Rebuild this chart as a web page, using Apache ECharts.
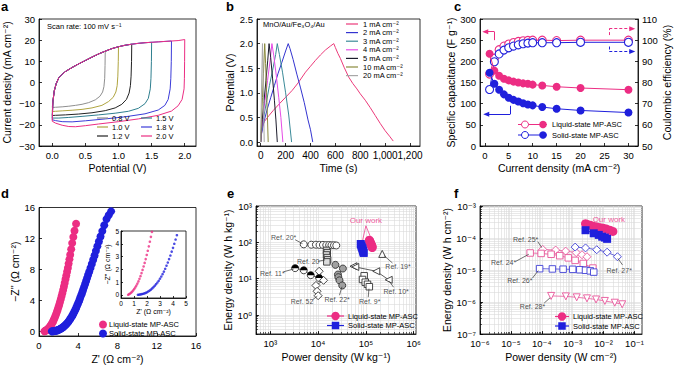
<!DOCTYPE html>
<html><head><meta charset="utf-8">
<script src="https://cdn.jsdelivr.net/npm/echarts@6/dist/echarts.min.js"></script>
<style>html,body{margin:0;padding:0;background:#fff}#c{width:676px;height:365px}</style>
</head><body><div id="c"></div>
<script>
// ---------------- DATA ----------------
// a: CV curves
const cvLabels = ['0.8 V', '1.0 V', '1.2 V', '1.5 V', '1.8 V', '2.0 V'];
const cvVmax = [0.8, 1.0, 1.2, 1.5, 1.8, 2.0];
const cvUpper = [[0.01,-9],[0.03,-4],[0.06,-0.5],[0.1,2.3],[0.15,3.9],[0.2,5.2],[0.3,7.1],[0.4,8.8],[0.5,10.4],[0.6,12],[0.7,13.5],[0.8,14.8],[0.9,16],[1.0,16.9],[1.1,17.6],[1.2,18.1],[1.3,18.5],[1.4,18.8],[1.5,19.0],[1.6,19.2],[1.7,19.4],[1.8,19.6],[1.9,19.8],[2.0,20.3]];
const cvRet08 = [[0.797,8],[0.792,2],[0.78,-2],[0.76,-4.5],[0.72,-6.5],[0.65,-8.2],[0.55,-9.5],[0.45,-10.3],[0.35,-10.8],[0.25,-11.2],[0.15,-11.5],[0.05,-11.7],[0,-11.8]];
const cvRet10 = [[0.997,10],[0.99,3],[0.98,-1.5],[0.96,-4.5],[0.92,-7],[0.85,-9],[0.75,-10.8],[0.6,-12],[0.45,-12.7],[0.3,-13.1],[0.15,-13.4],[0.05,-13.6],[0,-13.7]];
const cvRet12 = [[1.197,10],[1.19,3],[1.18,-1.5],[1.16,-5],[1.12,-8],[1.05,-10.3],[0.95,-12],[0.8,-13.3],[0.6,-14.3],[0.4,-14.9],[0.2,-15.3],[0.05,-15.5],[0,-15.6]];
const cvRet15 = [[1.497,10],[1.49,2],[1.48,-3],[1.45,-7.5],[1.4,-10],[1.3,-12.2],[1.15,-13.6],[0.95,-14.5],[0.7,-15.3],[0.45,-16],[0.25,-16.5],[0.1,-16.8],[0,-16.8]];
const cvRet18 = [[1.797,10],[1.79,2],[1.78,-3],[1.75,-8],[1.7,-10.8],[1.6,-13],[1.4,-14.8],[1.1,-16.2],[0.8,-17.2],[0.5,-18.1],[0.3,-18.6],[0.15,-18.5],[0.05,-18],[0,-17.6]];
const cvRet20 = [[1.998,10],[1.995,2],[1.99,-3],[1.96,-8],[1.9,-11],[1.8,-13.5],[1.6,-15.5],[1.3,-17.2],[1.0,-18.5],[0.7,-19.6],[0.5,-20.4],[0.35,-20.9],[0.25,-20.8],[0.15,-20.2],[0.05,-19.2],[0,-18.3]];
const aTicksX = [0, 0.5, 1, 1.5, 2];
const aTicksY = [-30, -20, -10, 0, 10, 20, 30];

// b: GCD curves
const gcdLabels = ['1 mA cm⁻²','2 mA cm⁻²','3 mA cm⁻²','4 mA cm⁻²','5 mA cm⁻²','10 mA cm⁻²','20 mA cm⁻²'];
const gcd1 = [[0,0],[5,0.15],[13,0.31],[30,0.42],[67,0.54],[100,0.64],[147,0.77],[200,0.91],[253,1.05],[300,1.2],[360,1.42],[400,1.54],[440,1.66],[480,1.77],[520,1.87],[560,1.95],[587,2.0],[600,1.92],[620,1.8],[640,1.7],[670,1.52],[707,1.32],[740,1.19],[773,1.08],[800,0.98],[840,0.85],[880,0.7],[920,0.54],[960,0.38],[1000,0.23],[1035,0.12],[1065,0.02]];
const gcd2 = [[0,0],[3,0.12],[20,0.35],[50,0.65],[80,0.9],[110,1.15],[140,1.4],[170,1.62],[200,1.85],[221,2.0],[235,1.9],[260,1.68],[290,1.38],[320,1.1],[350,0.8],[380,0.45],[400,0.25],[418,0.0]];
const gcd3 = [[0,0],[3,0.15],[20,0.45],[45,0.8],[70,1.15],[95,1.45],[120,1.78],[133,2.0],[150,1.78],[175,1.42],[200,1.0],[225,0.55],[248,0.0]];
const gcd4 = [[0,0],[3,0.15],[15,0.45],[35,0.85],[55,1.25],[75,1.65],[90,2.0],[105,1.75],[125,1.35],[145,0.9],[162,0.5],[178,0.0]];
const gcd5 = [[0,0],[2,0.15],[12,0.45],[27,0.85],[42,1.25],[56,1.65],[67,2.0],[80,1.72],[95,1.3],[110,0.85],[122,0.45],[133,0.0]];
const gcd10 = [[0,0],[1,0.15],[6,0.45],[14,0.9],[22,1.4],[32,2.0],[39,1.6],[47,1.0],[54,0.5],[60,0.0]];
const gcd20 = [[0,0],[1,0.2],[4,0.7],[8,1.3],[14,2.0],[18,1.5],[23,0.8],[28,0.0]];
const bTicksX = [0, 200, 400, 600, 800, 1000, 1200];
const bTicksY = [0, 0.5, 1, 1.5, 2, 2.5];

// c: capacitance & coulombic efficiency
const currentDensity = [1,2,3,4,5,6,7,8,9,10,12,15,20,30];
const capLiquid = [218,178,166,159,155,152,150,148,147,145,143,140,137,133];
const capSolid = [173,147,133,122,114,109,105,101,98,96,92,88,84,79];
const ceLiquid = [84,91.5,95.5,97.2,98.2,98.9,99.4,99.7,99.9,100,100,99.8,100,100];
const ceSolid = [76.7,89.8,93.5,95.3,96.4,97.2,97.8,98.3,98.6,98.8,98.8,98.8,99,99];
const cTicksX = [0,5,10,15,20,25,30];
const cTicksL = [0,50,100,150,200,250,300];
const cTicksR = [50,60,70,80,90,100,110];

// d: Nyquist
const eisLiquid = [[0.55,0],[0.62,0.05],[0.7,0.1],[0.78,0.17],[0.86,0.25],[0.94,0.35],[1.02,0.46],[1.1,0.58],[1.18,0.72],[1.26,0.88],[1.34,1.05],[1.42,1.25],[1.5,1.46],[1.58,1.7],[1.66,1.95],[1.74,2.22],[1.82,2.5],[1.9,2.8],[1.98,3.12],[2.06,3.45],[2.14,3.8],[2.22,4.16],[2.3,4.54],[2.38,4.93],[2.46,5.35],[2.54,5.8],[2.62,6.25],[2.7,6.72],[2.78,7.2],[2.86,7.7],[2.94,8.2],[3.02,8.75],[3.1,9.3],[3.18,9.9],[3.28,10.6],[3.38,11.4],[3.5,12.2],[3.62,13.0],[3.78,13.9]];
const eisSolid = [[1.3,0],[1.4,0.01],[1.5,0.03],[1.6,0.05],[1.7,0.08],[1.8,0.11],[1.9,0.15],[2.0,0.2],[2.1,0.26],[2.2,0.33],[2.3,0.41],[2.4,0.5],[2.5,0.6],[2.6,0.71],[2.7,0.83],[2.8,0.96],[2.9,1.1],[3.0,1.26],[3.1,1.43],[3.2,1.62],[3.3,1.82],[3.4,2.04],[3.5,2.28],[3.6,2.53],[3.7,2.8],[3.8,3.08],[3.9,3.38],[4.0,3.68],[4.1,4.0],[4.2,4.33],[4.3,4.67],[4.4,5.02],[4.5,5.38],[4.6,5.75],[4.7,6.12],[4.8,6.5],[4.9,6.88],[5.0,7.27],[5.12,7.72],[5.25,8.2],[5.38,8.7],[5.52,9.25],[5.66,9.8],[5.8,10.4],[5.95,11.0],[6.1,11.6],[6.27,12.25],[6.45,12.95],[6.65,13.7],[6.88,14.5],[7.1,15.0],[7.35,15.5]];
const dTicks = [0, 4, 8, 12, 16];
const insetTicks = [0, 1, 2, 3, 4, 5];

// e: Ragone (gravimetric)
const eLiquid = [[118000,115],[120000,108],[122000,102],[124000,97],[126000,92],[128000,88],[130000,84],[132000,80],[134000,76],[136000,72]];
const eSolid = [[78000,90],[80000,82],[82000,75],[84000,69],[85500,64],[87000,59],[88500,55],[90000,51]];
const eRef20s = [[5000,88],[7200,86],[9000,86],[10700,85],[12600,85],[14800,84],[17000,84],[19000,83],[21500,83],[24000,82]];
const eRef20 = [[15000,60],[15500,52],[15000,45],[15500,38],[15800,33],[15200,29]];
const eRef11s = [[3300,19.5],[5000,17],[7000,12.5],[10500,10.5]];
const eRef52 = [[10500,16],[13000,9],[9000,6.5],[9500,4.5],[10000,3.4]];
const eRef22s = [[23000,24],[33000,19],[26000,13],[26500,11],[28000,9],[32000,6.5]];
const eRef9s = [[92000,12],[85000,9.5],[97000,8],[108000,7],[118000,6]];
const eRef10s = [[55000,22],[60000,21],[165000,16],[300000,9.3]];
const eRef19s = [[220000,48]];
const eTicksX = [1e3, 1e4, 1e5, 1e6];
const eTicksY = [1, 10, 100, 1000];

// f: Ragone (areal)
const fLiquid = [[2.6e-3,2.8e-4],[3.2e-3,2.6e-4],[4e-3,2.45e-4],[5e-3,2.3e-4],[6.3e-3,2.2e-4],[8e-3,2.1e-4],[1e-2,2e-4],[1.25e-2,1.9e-4],[1.6e-2,1.75e-4],[2e-2,1.6e-4]];
const fSolid = [[2.6e-3,1.75e-4],[4.8e-3,1.4e-4],[7e-3,1.25e-4],[9e-3,1.1e-4],[1.1e-2,1.03e-4],[1.3e-2,9.4e-5]];
const fRef25s = [[1.07e-4,4.4e-5],[2.8e-4,4.2e-5],[5.9e-4,3.9e-5],[1.3e-3,3.5e-5],[2e-3,3e-5],[2.9e-3,2.6e-5]];
const fRef24s = [[4.2e-5,3.4e-5],[9.5e-5,3.3e-5],[2e-4,3.1e-5],[3.8e-4,2.8e-5],[7.2e-4,2.4e-5],[1.2e-3,2e-5],[2.2e-3,1.6e-5],[4.5e-3,1.15e-5]];
const fRef27s = [[1.2e-3,5.2e-5],[2.6e-3,4.9e-5],[6e-3,4.3e-5],[1.3e-2,3.6e-5],[2.8e-2,2.6e-5]];
const fRef26s = [[8.5e-5,1.1e-5],[2.2e-4,1.08e-5],[4.9e-4,1.06e-5],[1e-3,1.05e-5],[1.7e-3,1.02e-5],[2.6e-3,9.8e-6],[3.7e-3,9.4e-6],[4.8e-3,8.6e-6]];
const fRef28s = [[2e-4,1.55e-6],[6e-4,1.5e-6],[1.35e-3,1.4e-6],[2.9e-3,1.3e-6],[5.7e-3,1.2e-6],[1.1e-2,1.08e-6],[2.3e-2,9.5e-7],[4e-2,8.5e-7]];
const fTicksX = [1e-6, 1e-5, 1e-4, 1e-3, 1e-2, 1e-1];
const fTicksY = [1e-7, 1e-6, 1e-5, 1e-4, 1e-3];

// ---------------- STYLE / LAYOUT ----------------
const FONT = 'Liberation Sans, Arial, DejaVu Sans, sans-serif';
const PINK = '#ec2d83', BLUE = '#1f1fdc';
const cvColors = ['#8f8f8f', '#b0a540', '#222222', '#2f7f8f', '#3b3bd9', '#ec2d83'];
const gcdColors = ['#ec3a7a', '#3434d0', '#3a8a98', '#e64ce6', '#1c1c2c', '#8a8a3c', '#a8a8a8'];
const REFPINK = '#e8559a', REFBLUE = '#4040d6', REFGREY = '#333333';
const TICKFONT = 9.5;

const SUP = {'-':'⁻','0':'⁰','1':'¹','2':'²','3':'³','4':'⁴','5':'⁵','6':'⁶','7':'⁷','8':'⁸','9':'⁹'};
const sup = s => String(s).replace(/[-0-9]/g, c => SUP[c]);
const logFmt = v => '10' + sup(Math.round(Math.log10(v)));
const minusFmt = v => String(v).replace('-', '−');
const fix1 = v => Number(v).toFixed(1);
const commaFmt = v => Number(v).toLocaleString('en-US');

function minorVals(lo, hi) {
  const out = [];
  for (let e = Math.floor(Math.log10(lo)); e <= Math.ceil(Math.log10(hi)); e++)
    for (let m = 1; m < 10; m++) { const v = m * Math.pow(10, e); if (v >= lo * 0.999 && v <= hi * 1.001) out.push(v); }
  return out;
}

function axis(kind, grid, min, max, ticks, fmt, name, gap, extra) {
  const a = {
    type: kind, gridIndex: grid, min: min, max: max,
    axisLine: {show: true, onZero: false, lineStyle: {color: '#000', width: 0.8}},
    axisTick: {show: true, inside: true, length: 3, customValues: ticks, lineStyle: {color: '#000', width: 0.8}},
    axisLabel: {show: true, customValues: ticks, formatter: fmt, fontSize: TICKFONT, color: '#000', fontFamily: FONT, margin: 4},
    splitLine: {show: false},
    name: name, nameLocation: 'middle', nameGap: gap,
    nameTextStyle: {fontSize: 10.5, color: '#000', fontFamily: FONT}
  };
  if (kind === 'log') a.logBase = 10;
  return Object.assign(a, extra || {});
}
function gridAxis(grid, min, max, pos) {
  return {type: 'log', logBase: 10, gridIndex: grid, min: min, max: max, position: pos,
    axisLine: {show: false}, axisLabel: {show: false},
    axisTick: {show: true, inside: true, length: 2, customValues: minorVals(min, max), lineStyle: {color: '#000', width: 0.6}},
    splitLine: {show: true, lineStyle: {color: '#dadada', width: 0.6}}};
}

const grids = [
  {left: 39, top: 19, width: 157, height: 127},   // a
  {left: 257, top: 19, width: 163, height: 127},  // b
  {left: 480, top: 19, width: 158, height: 127},  // c
  {left: 39, top: 207.5, width: 157, height: 128.5}, // d
  {left: 256, top: 206, width: 160, height: 128}, // e
  {left: 480, top: 206, width: 162, height: 128}, // f
  {left: 121, top: 231, width: 65, height: 67}    // inset
].map(g => Object.assign({show: true, borderColor: '#000', borderWidth: 0.8, backgroundColor: 'transparent', containLabel: false}, g));
grids[6].backgroundColor = '#fff';

const xAxes = [
  axis('value', 0, -0.2, 2.17, aTicksX, fix1, 'Potential (V)', 16),
  axis('value', 1, -30, 1280, bTicksX, commaFmt, 'Time (s)', 16),
  axis('value', 2, -1, 32, cTicksX, null, 'Current density (mA cm⁻²)', 16),
  axis('value', 3, 0, 16, dTicks, null, "Z' (Ω cm⁻²)", 17),
  axis('log', 4, 500, 1.12e6, eTicksX, logFmt, 'Power density (W kg⁻¹)', 17),
  axis('log', 5, 1e-6, 0.175, fTicksX, logFmt, 'Power density (W cm⁻²)', 17),
  axis('value', 6, 0, 5, insetTicks, null, "Z' (Ω cm⁻²)", 9),
  gridAxis(4, 500, 1.12e6, 'bottom'),
  gridAxis(5, 1e-6, 0.175, 'bottom')
];
xAxes[1].axisLabel.fontSize = 10;
xAxes[6].axisLabel.fontSize = 6.5; xAxes[6].axisLabel.margin = 2; xAxes[6].axisTick.length = 2; xAxes[6].nameTextStyle.fontSize = 7;
const yAxes = [
  axis('value', 0, -30, 30, aTicksY, minusFmt, 'Current density (mA cm⁻²)', 27),
  axis('value', 1, -0.08, 2.5, bTicksY, fix1, 'Potential (V)', 22),
  axis('value', 2, 0, 300, cTicksL, null, 'Specific capacitance (F g⁻¹)', 24, {position: 'left'}),
  axis('value', 2, 50, 110, cTicksR, null, 'Coulombic efficiency (%)', 23, {position: 'right'}),
  axis('value', 3, -0.6, 16, dTicks, null, "−Z'' (Ω cm⁻²)", 18),
  axis('log', 4, 0.3, 1000, eTicksY, logFmt, 'Energy density (W h kg⁻¹)', 22, {position: 'left'}),
  axis('log', 5, 1e-7, 1e-3, fTicksY, logFmt, 'Energy density (W h cm⁻²)', 27, {position: 'left'}),
  axis('value', 6, -0.25, 5, insetTicks, null, "−Z'' (Ω cm⁻²)", 8),
  gridAxis(4, 0.3, 1000, 'left'),
  gridAxis(5, 1e-7, 1e-3, 'left')
];
yAxes[7].axisLabel.fontSize = 6.5; yAxes[7].axisLabel.margin = 2; yAxes[7].axisTick.length = 2; yAxes[7].nameTextStyle.fontSize = 7;

// ---------------- SERIES ----------------
const series = [];
// a
[cvRet08, cvRet10, cvRet12, cvRet15, cvRet18, cvRet20].forEach((ret, i) => {
  const data = [ret[ret.length - 1]].concat(cvUpper.filter(p => p[0] <= cvVmax[i] + 1e-9), ret);
  series.push({type: 'line', name: cvLabels[i], xAxisIndex: 0, yAxisIndex: 0, data: data, symbol: 'none',
    lineStyle: {width: 1, color: cvColors[i]}, itemStyle: {color: cvColors[i]}});
});
// b
[gcd1, gcd2, gcd3, gcd4, gcd5, gcd10, gcd20].forEach((d, i) => {
  series.push({type: 'line', name: gcdLabels[i], xAxisIndex: 1, yAxisIndex: 1, data: d, symbol: 'none',
    lineStyle: {width: 1, color: gcdColors[i]}, itemStyle: {color: gcdColors[i]}});
});
// c
const zip = (xs, ys) => xs.map((x, i) => [x, ys[i]]);
function cSeries(name, ys, yIdx, color, open) {
  return {type: 'line', name: name, xAxisIndex: 2, yAxisIndex: yIdx, data: zip(currentDensity, ys),
    symbol: 'circle', symbolSize: 8, showAllSymbol: true,
    lineStyle: {width: 1, color: color},
    itemStyle: open ? {color: '#fff', borderColor: color, borderWidth: 1.1} : {color: color, borderWidth: 0}, z: open ? 3 : 4};
}
series.push(cSeries('CE liquid', ceLiquid, 3, PINK, true));
series.push(cSeries('CE solid', ceSolid, 3, BLUE, true));
series.push(cSeries('Cap liquid', capLiquid, 2, PINK, false));
series.push(cSeries('Cap solid', capSolid, 2, BLUE, false));
// c arrows (data coordinates on left axis)
const arrowSeg = (a, b, color, dashed, head) => [
  {coord: a, symbol: 'none', lineStyle: {color: color, width: 1, type: dashed ? [3, 2] : 'solid'}},
  {coord: b, symbol: head ? 'triangle' : 'none', symbolSize: [5, 6]}];
series.push({type: 'line', name: 'c arrows', xAxisIndex: 2, yAxisIndex: 2, data: [], silent: true,
  markLine: {silent: true, animation: false, label: {show: false}, symbol: ['none', 'none'],
    data: [
      arrowSeg([2.0, 250], [2.0, 270], PINK, false, false), arrowSeg([2.0, 270], [0.1, 270], PINK, false, true),
      arrowSeg([5.3, 95], [5.3, 75], BLUE, false, false), arrowSeg([5.3, 75], [0.3, 75], BLUE, false, true),
      arrowSeg([26, 262], [26, 277], PINK, true, false), arrowSeg([26, 277], [30.8, 277], PINK, true, true),
      arrowSeg([26, 235], [26, 223], BLUE, true, false), arrowSeg([26, 223], [30.8, 223], BLUE, true, true)
    ]}});
// d
series.push({type: 'scatter', name: 'd liquid', xAxisIndex: 3, yAxisIndex: 4, data: eisLiquid, symbolSize: 8, itemStyle: {color: PINK, opacity: 1}});
series.push({type: 'scatter', name: 'd solid', xAxisIndex: 3, yAxisIndex: 4, data: eisSolid, symbolSize: 8, itemStyle: {color: BLUE, opacity: 1}});
series.push({type: 'scatter', name: 'inset liquid', xAxisIndex: 6, yAxisIndex: 7, data: eisLiquid.filter(p => p[1] <= 5), symbolSize: 2.6, itemStyle: {color: PINK}, z: 6});
series.push({type: 'scatter', name: 'inset solid', xAxisIndex: 6, yAxisIndex: 7, data: eisSolid.filter(p => p[1] <= 5.05), symbolSize: 2.6, itemStyle: {color: BLUE}, z: 6});
// e
function refSeries(name, xi, yi, data, symbol, color, fill, size, extra) {
  return Object.assign({type: 'line', name: name, xAxisIndex: xi, yAxisIndex: yi, data: data, symbol: symbol, symbolSize: size || 7,
    showAllSymbol: true, lineStyle: {width: 0.8, color: color},
    itemStyle: {color: fill || '#fff', borderColor: color, borderWidth: 0.9}, z: 3}, extra || {});
}
series.push(refSeries('Ref. 20*', 4, 5, eRef20s, 'circle', REFGREY));
series.push(refSeries('Ref. 20', 4, 5, eRef20, 'rect', REFGREY, '#dcdcdc', 6.5));
series.push(refSeries('Ref. 11*', 4, 5, eRef11s, 'circle', REFGREY));
series.push(refSeries('Ref. 11* half', 4, 5, eRef11s, 'path://M0,10A10,10,0,0,1,20,10Z', '#000', '#000', 7,
  {symbolKeepAspect: true, symbolOffset: [0, -1.75], lineStyle: {width: 0, opacity: 0}, itemStyle: {color: '#000', borderWidth: 0}, z: 4}));
series.push(refSeries('Ref. 52', 4, 5, eRef52, 'diamond', REFGREY, '#fff', 8));
series.push(refSeries('Ref. 22*', 4, 5, eRef22s, 'circle', REFGREY, '#a0a0a0'));
series.push(refSeries('Ref. 9*', 4, 5, eRef9s, 'rect', REFGREY, '#fff', 6.5));
series.push(refSeries('Ref. 10*', 4, 5, eRef10s, 'triangle', REFGREY, '#fff', 7, {symbolRotate: 90}));
series.push(refSeries('Ref. 19*', 4, 5, eRef19s, 'triangle', REFGREY, '#fff', 7));
series.push({type: 'line', name: 'e liquid', xAxisIndex: 4, yAxisIndex: 5, data: eLiquid, symbol: 'circle', symbolSize: 9, showAllSymbol: true, lineStyle: {width: 1, color: PINK}, itemStyle: {color: PINK}, z: 5});
series.push({type: 'line', name: 'e solid', xAxisIndex: 4, yAxisIndex: 5, data: eSolid, symbol: 'rect', symbolSize: 8, showAllSymbol: true, lineStyle: {width: 1, color: BLUE}, itemStyle: {color: BLUE}, z: 5});
// f
series.push(refSeries('Ref. 25*', 5, 6, fRef25s, 'diamond', REFPINK, '#fff', 8));
series.push(refSeries('Ref. 24*', 5, 6, fRef24s, 'rect', REFPINK, '#fff', 6.5));
series.push(refSeries('Ref. 27*', 5, 6, fRef27s, 'diamond', REFBLUE, '#fff', 8));
series.push(refSeries('Ref. 26*', 5, 6, fRef26s, 'rect', REFBLUE, '#fff', 6.5));
series.push(refSeries('Ref. 28*', 5, 6, fRef28s, 'triangle', REFPINK, '#fff', 7, {symbolRotate: 180}));
series.push({type: 'line', name: 'f liquid', xAxisIndex: 5, yAxisIndex: 6, data: fLiquid, symbol: 'circle', symbolSize: 9, showAllSymbol: true, lineStyle: {width: 1, color: PINK}, itemStyle: {color: PINK}, z: 5});
series.push({type: 'line', name: 'f solid', xAxisIndex: 5, yAxisIndex: 6, data: fSolid, symbol: 'rect', symbolSize: 8, showAllSymbol: true, lineStyle: {width: 1, color: BLUE}, itemStyle: {color: BLUE}, z: 5});

// annotations (label positions and leader lines in data coordinates)
const eNotes = [
  {t: 'Ref. 20*', at: [1900, 135], line: [[3300, 118], [4700, 92]]},
  {t: 'Ref. 20', at: [6200, 30], line: [[10000, 30], [14000, 33]]},
  {t: 'Ref. 11*', at: [1100, 14], line: [[1900, 15.5], [3100, 18.5]]},
  {t: 'Ref. 52', at: [4600, 2.35], line: [[7600, 2.6], [9600, 3.3]]},
  {t: 'Ref. 22*', at: [25000, 2.75], line: [[28000, 3.5], [31500, 6.0]]},
  {t: 'Ref. 9*', at: [120000, 2.3], line: [[112000, 3.1], [116000, 5.3]]},
  {t: 'Ref. 10*', at: [430000, 4.4], line: [[380000, 5.8], [310000, 8.4]]},
  {t: 'Ref. 19*', at: [470000, 21], line: [[360000, 27], [240000, 43]]},
  {t: 'Our work', at: [100000, 390], color: PINK, line: [[100000, 285], [84000, 104]]},
  {t: '', at: [100000, 285], color: PINK, line: [[100000, 285], [127000, 134]]}
];
const fNotes = [
  {t: 'Ref. 25*', at: [3.0e-5, 9.3e-5], line: [[7.4e-5, 7.7e-5], [1e-4, 5e-5]]},
  {t: 'Ref. 24*', at: [5.8e-6, 1.66e-5], line: [[1.43e-5, 1.86e-5], [3.8e-5, 3.1e-5]]},
  {t: 'Ref. 26*', at: [1.94e-5, 4.6e-6], line: [[5e-5, 5.6e-6], [7.7e-5, 9.6e-6]]},
  {t: 'Ref. 28*', at: [5e-5, 7.4e-7], line: [[1.2e-4, 9.3e-7], [1.85e-4, 1.35e-6]]},
  {t: 'Ref. 27*', at: [0.032, 9.7e-6], line: [[0.041, 1.44e-5], [0.029, 2.3e-5]]},
  {t: 'Our work', at: [0.0148, 3.7e-4], color: PINK}
];
function noteSeries(xi, yi, notes) {
  return {type: 'scatter', name: 'notes', xAxisIndex: xi, yAxisIndex: yi, symbolSize: 0, silent: true, z: 8,
    data: notes.map(n => ({value: n.at, label: {show: !!n.t, formatter: n.t, color: n.color || '#222', fontSize: n.color ? 8 : 7, fontFamily: FONT, position: 'inside'}})),
    markLine: {silent: true, animation: false, symbol: ['none', 'none'], label: {show: false},
      data: notes.filter(n => n.line).map(n => [{coord: n.line[0], lineStyle: {color: n.color || '#333', width: 0.7, type: 'solid'}}, {coord: n.line[1]}])}};
}
series.push(noteSeries(4, 5, eNotes));
series.push(noteSeries(5, 6, fNotes));

// ---------------- GRAPHIC (panel letters, legends, in-plot titles) ----------------
const graphics = [];
function T(x, y, text, size, extra) {
  graphics.push({type: 'text', x: x, y: y, silent: true, z: 100,
    style: Object.assign({text: text, fontSize: size, fontFamily: FONT, fill: '#000', align: 'left', verticalAlign: 'middle'}, extra || {})});
}
function L(x1, y1, x2, y2, color, w) { graphics.push({type: 'line', silent: true, z: 100, shape: {x1: x1, y1: y1, x2: x2, y2: y2}, style: {stroke: color, lineWidth: w || 1}}); }
function C(cx, cy, r, fill, stroke) { graphics.push({type: 'circle', silent: true, z: 101, shape: {cx: cx, cy: cy, r: r}, style: {fill: fill, stroke: stroke || null, lineWidth: 1}}); }
function R(cx, cy, s, fill) { graphics.push({type: 'rect', silent: true, z: 101, shape: {x: cx - s / 2, y: cy - s / 2, width: s, height: s}, style: {fill: fill}}); }

['a', 'b', 'c'].forEach((l, i) => T([1, 226, 454][i], 6, l, 13, {fontWeight: 'bold'}));
['d', 'e', 'f'].forEach((l, i) => T([1, 227, 454][i], 193, l, 13, {fontWeight: 'bold'}));
T(47, 26, 'Scan rate: 100 mV s⁻¹', 7.5);
T(263, 24, 'MnO/Au/Fe₃O₄/Au', 7.5);
// a legend
cvLabels.forEach((lab, i) => {
  const col = i < 3 ? 0 : 1, row = i % 3;
  const x0 = col ? 141 : 97, y = 118 + row * 9;
  L(x0, y, x0 + 11, y, cvColors[i], 1.2);
  T(x0 + 15, y, lab, 7.5);
});
// b legend
gcdLabels.forEach((lab, i) => {
  const y = 24 + i * 8.6;
  L(346, y, 358, y, gcdColors[i], 1.2);
  T(363, y, lab, 7.5);
});
// c legend
[['Liquid-state MP-ASC', PINK, 124.5], ['Solid-state MP-ASC', BLUE, 135]].forEach(([lab, col, y]) => {
  L(518, y, 547, y, col, 1);
  C(525, y, 3.5, '#fff', col);
  C(543, y, 3.8, col);
  T(552, y, lab, 7.5);
});
// d legend
[['Liquid-state MP-ASC', PINK, 324.5], ['Solid-state MP-ASC', BLUE, 333.5]].forEach(([lab, col, y]) => {
  C(103, y, 4, col);
  T(109, y, lab, 7.5);
});
// e legend
[['Liquid-state MP-ASC', PINK, 316, 'c'], ['Solid-state MP-ASC', BLUE, 325.5, 'r']].forEach(([lab, col, y, s]) => {
  L(327, y, 344, y, col, 1.2);
  if (s === 'c') C(335.5, y, 4.2, col); else R(335.5, y, 7.5, col);
  T(348, y, lab, 7.5);
});
// f legend
[['Liquid-state MP-ASC', PINK, 316.5, 'c'], ['Solid-state MP-ASC', BLUE, 326, 'r']].forEach(([lab, col, y, s]) => {
  L(555, y, 569, y, col, 1.2);
  if (s === 'c') C(562, y, 4.2, col); else R(562, y, 7.5, col);
  T(573, y, lab, 7.5);
});

const chart = echarts.init(document.getElementById('c'), null, {renderer: 'svg', width: 676, height: 365});
chart.setOption({
  animation: false,
  backgroundColor: '#fff',
  textStyle: {fontFamily: FONT},
  grid: grids,
  xAxis: xAxes,
  yAxis: yAxes,
  series: series,
  graphic: graphics
});
</script></body></html>
